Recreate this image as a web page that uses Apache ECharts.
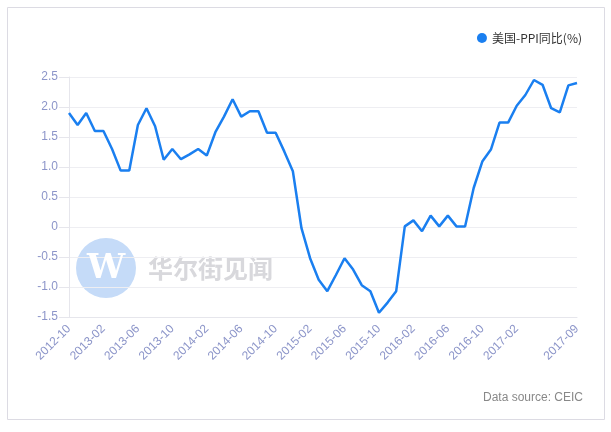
<!DOCTYPE html>
<html>
<head>
<meta charset="utf-8">
<script src="https://cdn.jsdelivr.net/npm/echarts@6/dist/echarts.min.js"></script>
<style>html,body{margin:0;padding:0;background:#fff}#c{width:611px;height:432px}</style>
</head>
<body>
<div id="c"></div>
<script>
const categories = ['2012-10','2012-11','2012-12','2013-01','2013-02','2013-03','2013-04','2013-05','2013-06','2013-07','2013-08','2013-09','2013-10','2013-11','2013-12','2014-01','2014-02','2014-03','2014-04','2014-05','2014-06','2014-07','2014-08','2014-09','2014-10','2014-11','2014-12','2015-01','2015-02','2015-03','2015-04','2015-05','2015-06','2015-07','2015-08','2015-09','2015-10','2015-11','2015-12','2016-01','2016-02','2016-03','2016-04','2016-05','2016-06','2016-07','2016-08','2016-09','2016-10','2016-11','2016-12','2017-01','2017-02','2017-03','2017-04','2017-05','2017-06','2017-07','2017-08','2017-09'];
const ppiYoY = [1.9,1.7,1.9,1.6,1.6,1.3,0.94,0.94,1.7,1.98,1.68,1.12,1.3,1.13,1.21,1.3,1.19,1.58,1.84,2.13,1.84,1.93,1.93,1.57,1.57,1.26,0.93,-0.02,-0.52,-0.88,-1.07,-0.8,-0.52,-0.71,-0.97,-1.07,-1.43,-1.26,-1.07,0.01,0.11,-0.07,0.19,0.01,0.19,0.01,0.01,0.65,1.09,1.29,1.74,1.74,2.02,2.2,2.45,2.37,1.98,1.91,2.36,2.4];
const seriesName = '美国-PPI同比(%)';
const sourceText = 'Data source: CEIC';
const watermarkText = '华尔街见闻';

const chart = echarts.init(document.getElementById('c'));
const labelColor = '#8c95c9';
const lastIdx = categories.length - 1;
const showLabel = (i) => (i % 4 === 0 && i < lastIdx - 3) || i === lastIdx;
chart.setOption({
  animation: false,
  grid: {left: 69, right: 34, top: 77, bottom: 115},
  legend: {
    data: [seriesName], right: 24, top: 27, icon: 'circle', itemWidth: 10, itemHeight: 10, itemGap: 5,
    textStyle: {color: '#333', fontSize: 12, fontFamily: 'Noto Sans CJK SC, sans-serif'}
  },
  graphic: [
    {type: 'rect', z: -10, shape: {x: 7.5, y: 7.5, width: 597, height: 412}, style: {fill: 'none', stroke: '#dcdbe3', lineWidth: 1}},
    {type: 'circle', z: 0, shape: {cx: 106, cy: 268, r: 30}, style: {fill: '#c5dbf8'}},
    {type: 'text', z: 1, style: {x: 106, y: 269, text: 'W', fill: '#ffffff', font: 'bold 34px "DejaVu Serif", serif', align: 'center', verticalAlign: 'middle'}},
    {type: 'text', z: 0, style: {x: 148, y: 268, text: watermarkText, fill: '#d8d8dc', font: 'bold 25px "Noto Sans CJK SC", sans-serif', verticalAlign: 'middle'}},
    {type: 'text', style: {x: 583, y: 398, text: sourceText, fill: '#888', font: '12px "Liberation Sans", Arial, sans-serif', align: 'right', verticalAlign: 'middle'}}
  ],
  xAxis: {
    type: 'category', data: categories, boundaryGap: false,
    axisLine: {onZero: false, lineStyle: {color: '#e6e6ec'}},
    axisTick: {show: false},
    axisLabel: {interval: (i) => showLabel(i), rotate: 45, color: labelColor, fontSize: 12, fontFamily: 'Liberation Sans, Arial, sans-serif', margin: 10},
    splitLine: {show: false}
  },
  yAxis: {
    type: 'value', min: -1.5, max: 2.5, interval: 0.5,
    axisLine: {show: true, lineStyle: {color: '#e6e6ec'}},
    axisTick: {show: true, length: 10, lineStyle: {color: '#e6e6ec'}},
    axisLabel: {color: labelColor, fontSize: 12, fontFamily: 'Liberation Sans, Arial, sans-serif', margin: 11,
      formatter: (v) => v === 0 ? '0' : v.toFixed(1)},
    splitLine: {lineStyle: {color: '#eeeef2'}}
  },
  series: [{
    name: seriesName, type: 'line', data: ppiYoY, showSymbol: false, symbol: 'circle',
    itemStyle: {color: '#1a7ff0'},
    lineStyle: {color: '#1a7ff0', width: 2.5}, z: 5
  }]
});
</script>
</body>
</html>
